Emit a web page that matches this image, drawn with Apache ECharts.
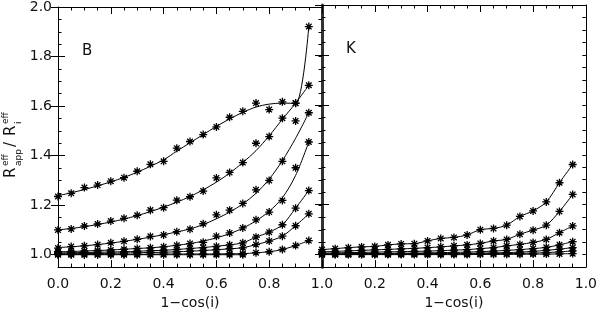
<!DOCTYPE html>
<html><head><meta charset="utf-8">
<script src="https://cdn.jsdelivr.net/npm/echarts@6/dist/echarts.min.js"></script>
<style>html,body{margin:0;padding:0;background:#fff}#c{width:600px;height:315px}</style>
</head><body><div id="c"></div>
<script>
// x positions (1 - cos i)
const xs = [0,0.05,0.10,0.15,0.20,0.25,0.30,0.35,0.40,0.45,0.50,0.55,0.60,0.65,0.70,0.75,0.80,0.85,0.90,0.95];
const xTicks = [0,0.2,0.4,0.6,0.8,1.0];
const yTickLabels = [1.0,1.2,1.4,1.6,1.8,2.0];

// Panel B: measured points
const b1 = [1.235,1.248,1.271,1.281,1.297,1.311,1.337,1.365,1.377,1.430,1.457,1.485,1.516,1.555,1.579,1.612,1.586,1.617,1.611,1.921];
const b2 = [1.100,1.104,1.116,1.124,1.136,1.147,1.159,1.180,1.190,1.220,1.234,1.257,1.310,1.332,1.372,1.450,1.477,1.551,1.612,1.684];
const b3 = [1.027,1.033,1.036,1.041,1.048,1.054,1.062,1.074,1.080,1.093,1.103,1.125,1.161,1.180,1.207,1.262,1.300,1.377,1.540,1.573];
const b4 = [1.012,1.013,1.015,1.017,1.019,1.022,1.025,1.028,1.032,1.038,1.045,1.050,1.075,1.088,1.108,1.141,1.172,1.219,1.351,1.455];
const b5 = [1.007,1.008,1.009,1.010,1.011,1.012,1.014,1.016,1.018,1.021,1.025,1.029,1.034,1.040,1.048,1.071,1.091,1.121,1.188,1.259];
const b6 = [1.004,1.004,1.005,1.005,1.006,1.007,1.008,1.009,1.010,1.012,1.014,1.017,1.020,1.024,1.028,1.041,1.055,1.075,1.117,1.165];
const b7 = [1.001,1.001,1.001,1.001,1.002,1.002,1.002,1.002,1.003,1.003,1.003,1.003,1.003,1.004,1.004,1.008,1.012,1.021,1.037,1.057];
const b8 = [1.000,1.000,1.000,1.000,1.000,1.000,1.000,1.000,1.000,1.000,1.000,1.000,1.000,1.000,1.000];
// Panel B: fitted curves
const fitB1 = [1.238,1.250,1.263,1.278,1.294,1.312,1.333,1.357,1.383,1.418,1.452,1.485,1.518,1.548,1.575,1.596,1.608,1.612,1.611,1.921];
const fitB2 = [1.100,1.106,1.113,1.122,1.132,1.144,1.158,1.174,1.192,1.212,1.235,1.262,1.293,1.329,1.372,1.420,1.480,1.547,1.612,1.684];
const fitB3 = [1.029,1.032,1.036,1.041,1.047,1.054,1.062,1.071,1.081,1.092,1.104,1.122,1.145,1.172,1.205,1.248,1.305,1.380,1.470,1.573];
const fitB4 = [1.012,1.013,1.015,1.017,1.019,1.022,1.025,1.028,1.032,1.038,1.045,1.055,1.068,1.085,1.107,1.137,1.175,1.230,1.320,1.455];

// Panel K
const k1 = [1.020,1.024,1.028,1.031,1.033,1.039,1.043,1.044,1.055,1.065,1.069,1.079,1.100,1.105,1.118,1.153,1.175,1.211,1.288,1.361];
const k2 = [1.011,1.013,1.015,1.017,1.019,1.021,1.023,1.025,1.028,1.031,1.035,1.039,1.045,1.055,1.061,1.082,1.098,1.118,1.173,1.241];
const k3 = [1.006,1.007,1.008,1.009,1.010,1.011,1.012,1.013,1.014,1.016,1.018,1.020,1.024,1.028,1.035,1.041,1.049,1.061,1.088,1.115];
const k4 = [1.003,1.003,1.004,1.004,1.005,1.005,1.006,1.006,1.007,1.008,1.009,1.010,1.012,1.014,1.017,1.020,1.024,1.029,1.039,1.052];
const k5 = [1.002,1.002,1.002,1.002,1.003,1.003,1.003,1.004,1.004,1.004,1.005,1.005,1.006,1.007,1.008,1.010,1.013,1.017,1.022,1.028];
const k6 = [1.001,1.001,1.001,1.001,1.001,1.002,1.002,1.002,1.002,1.002,1.003,1.003,1.003,1.004,1.004,1.005,1.006,1.008,1.011,1.015];
const k7 = [1.000,1.000,1.000,1.000,1.000,1.000,1.000,1.000,1.000,1.000,1.000,1.000,1.001,1.001,1.001,1.001,1.002,1.002,1.003,1.004];

const FONT = 'DejaVu Sans';
const STAR = 'path://M5,0L5,10M0,5L10,5M1.5,1.5L8.5,8.5M1.5,8.5L8.5,1.5';
const pairs = arr => arr.map((v,i) => [xs[i], v]);

function xAx(grid, pos, labels, hideMin) {
  return {
    type:'value', gridIndex:grid, position:pos, min:0, max:1, interval:0.2,
    axisLine:{show:true, onZero:false, lineStyle:{color:'#000', width:1}},
    axisTick:{show:true, inside:true, length:7, lineStyle:{color:'#000'}},
    minorTick:{show:true, splitNumber:4, length:3.5, lineStyle:{color:'#000'}},
    splitLine:{show:false},
    axisLabel:{show:labels, margin:10, color:'#111', fontFamily:FONT, fontSize:14,
      showMinLabel: !hideMin, formatter: v => v.toFixed(1)},
    name: labels ? '1\u2212cos(i)' : '', nameLocation:'middle', nameGap:28,
    nameTextStyle:{color:'#111', fontFamily:FONT, fontSize:14}
  };
}
function yMinor(grid, pos, labels, lw) {
  return {
    type:'value', gridIndex:grid, position:pos, min:0.95, max:2.0, interval:0.05,
    axisLine:{show:true, onZero:false, lineStyle:{color: lw>1 ? '#333' : '#000', width:lw}},
    axisTick:{show:true, inside:true, length:3.5, lineStyle:{color:'#000'}},
    splitLine:{show:false},
    axisLabel:{show:labels, customValues:yTickLabels, margin:6, color:'#111', fontFamily:FONT, fontSize:14,
      formatter: v => v.toFixed(1)}
  };
}
function yMajor(grid, pos) {
  return {
    type:'value', gridIndex:grid, position:pos, min:0.95, max:2.0,
    axisLine:{show:false},
    axisTick:{show:true, inside:true, length:7, customValues:yTickLabels, lineStyle:{color:'#000'}},
    splitLine:{show:false},
    axisLabel:{show:false}
  };
}

function pts(arr, xi, yi) {
  return {type:'line', xAxisIndex:xi, yAxisIndex:yi, data:pairs(arr), smooth:0.3,
    symbol:STAR, symbolSize:8, showAllSymbol:true, silent:true,
    lineStyle:{color:'#000', width:1},
    itemStyle:{color:'#000', borderColor:'#000', borderWidth:1.3}};
}
function dots(arr, xi, yi) {
  return {type:'scatter', xAxisIndex:xi, yAxisIndex:yi, data:pairs(arr),
    symbol:STAR, symbolSize:8, silent:true,
    itemStyle:{color:'#000', borderColor:'#000', borderWidth:1.3, opacity:1}};
}
function fit(arr, xi, yi) {
  return {type:'line', xAxisIndex:xi, yAxisIndex:yi, data:pairs(arr), smooth:0.3,
    showSymbol:false, silent:true, lineStyle:{color:'#000', width:1}};
}

const chart = echarts.init(document.getElementById('c'), null, {renderer:'canvas'});
chart.setOption({
  animation:false,
  backgroundColor:'#fff',
  grid:[{left:58, top:5, width:264, height:264}, {left:322, top:5, width:265, height:264}],
  xAxis:[xAx(0,'bottom',true,false), xAx(0,'top',false,false), xAx(1,'bottom',true,true), xAx(1,'top',false,false)],
  yAxis:[yMinor(0,'left',true,1), yMajor(0,'left'), yMinor(0,'right',false,3), yMajor(0,'right'),
         yMinor(1,'left',false,3), yMajor(1,'left'), yMinor(1,'right',false,1), yMajor(1,'right')],
  series:[
    fit(fitB1,0,0), dots(b1,0,0),
    fit(fitB2,0,0), dots(b2,0,0),
    fit(fitB3,0,0), dots(b3,0,0),
    fit(fitB4,0,0), dots(b4,0,0),
    pts(b5,0,0), pts(b6,0,0), pts(b7,0,0), pts(b8,0,0),
    pts(k1,2,4), pts(k2,2,4), pts(k3,2,4), pts(k4,2,4), pts(k5,2,4), pts(k6,2,4), pts(k7,2,4)
  ],
  graphic:[
    {type:'text', left:82, top:44, style:{text:'B', fontFamily:FONT, fontSize:15, fill:'#111'}},
    {type:'text', left:346, top:42, style:{text:'K', fontFamily:FONT, fontSize:15, fill:'#111'}},
    {type:'group', x:15, y:178, rotation:Math.PI/2, children:[
      {type:'text', x:0, y:-4, style:{text:'R', fontFamily:FONT, fontSize:15, fill:'#111', verticalAlign:'middle'}},
      {type:'text', x:12, y:-9.5, style:{text:'eff', fontFamily:FONT, fontSize:9, fill:'#111', verticalAlign:'middle'}},
      {type:'text', x:12, y:4, style:{text:'app', fontFamily:FONT, fontSize:9, fill:'#111', verticalAlign:'middle'}},
      {type:'text', x:31, y:-4, style:{text:'/', fontFamily:FONT, fontSize:15, fill:'#111', verticalAlign:'middle'}},
      {type:'text', x:42, y:-4, style:{text:'R', fontFamily:FONT, fontSize:15, fill:'#111', verticalAlign:'middle'}},
      {type:'text', x:54, y:-9.5, style:{text:'eff', fontFamily:FONT, fontSize:9, fill:'#111', verticalAlign:'middle'}},
      {type:'text', x:54, y:4, style:{text:'i', fontFamily:FONT, fontSize:9, fill:'#111', verticalAlign:'middle'}}
    ]}
  ]
});
</script></body></html>
